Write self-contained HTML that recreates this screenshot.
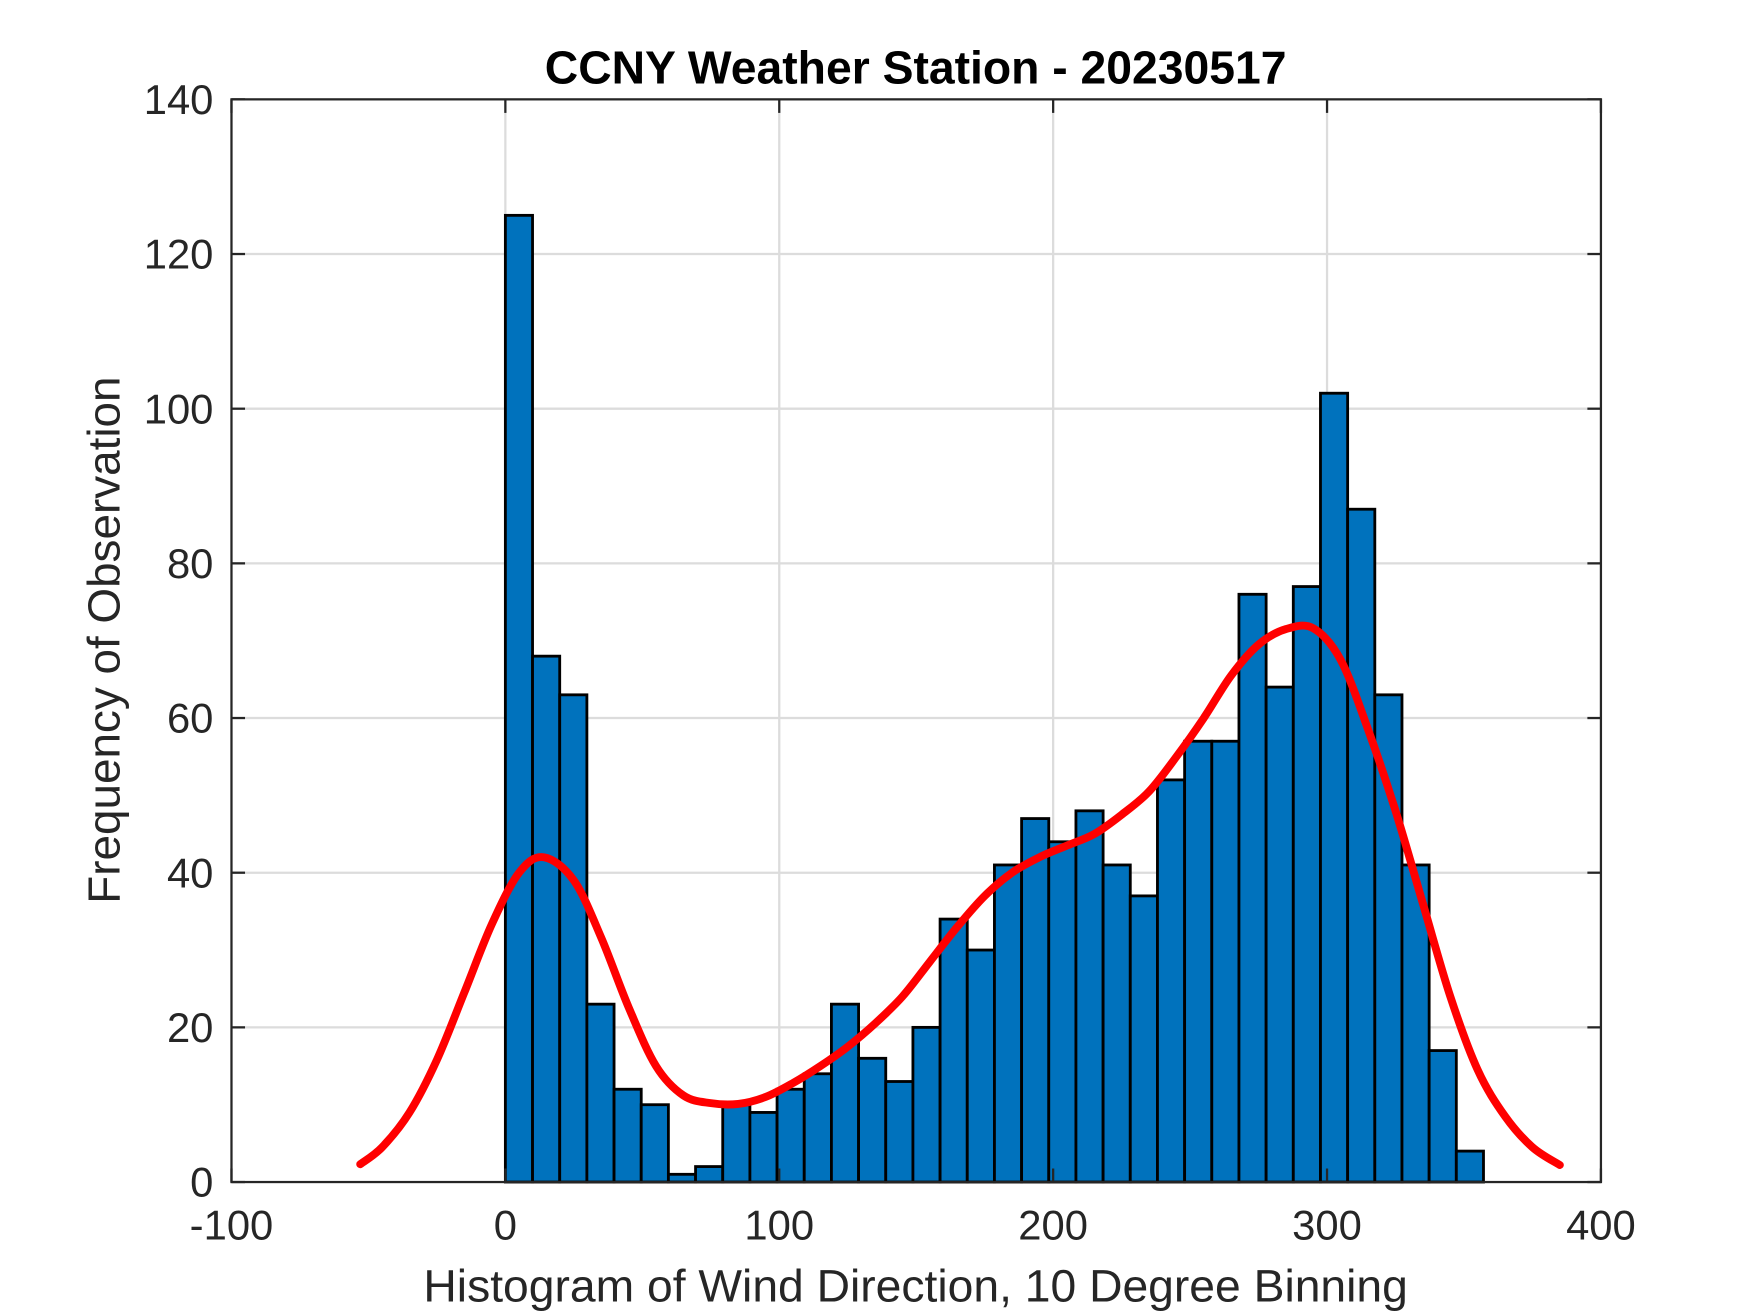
<!DOCTYPE html>
<html><head><meta charset="utf-8"><style>
html,body{margin:0;padding:0;background:#fff;}
svg{display:block;font-family:"Liberation Sans",Arial,sans-serif;}
</style></head><body>
<svg id="chart" width="1750" height="1313" viewBox="0 0 1550 1163" xmlns="http://www.w3.org/2000/svg">
<rect width="1550" height="1163" fill="#fff"/>
<g id="grid"></g>
<g id="bars"></g>
<g id="curve"></g>
<rect x="205" y="88" width="1213" height="959" fill="none" stroke="#262626" stroke-width="2"/>
<g id="ticks"></g>
<text x="811" y="74" text-anchor="middle" font-size="41" font-weight="bold" fill="#000" textLength="657" lengthAdjust="spacingAndGlyphs">CCNY Weather Station - 20230517</text>
<text x="811" y="1153" text-anchor="middle" font-size="40" fill="#262626" textLength="872" lengthAdjust="spacingAndGlyphs">Histogram of Wind Direction, 10 Degree Binning</text>
<text transform="translate(106,567) rotate(-90)" text-anchor="middle" font-size="40" fill="#262626" textLength="467" lengthAdjust="spacingAndGlyphs">Frequency of Observation</text>
</svg>
<script>
const counts = [125,68,63,23,12,10,1,2,10,9,12,14,23,16,13,20,34,30,41,47,44,48,41,37,52,57,57,76,64,77,102,87,63,41,17,4];
const binStart = 0;
const binWidth = 9.92;
const xTicks = [-100,0,100,200,300,400];
const yTicks = [0,20,40,60,80,100,120,140];
const curveX = [-53,-45,-35,-25,-15,-5,5,14,25,35,45,55,65,75,85,95,105,115,125,135,145,155,165,175,185,195,205,215,225,235,245,255,265,275,285,295,305,315,325,335,345,355,365,375,385];
const curveY = [2.3,4.5,9,15.8,24.5,33.3,40,42,39,31.6,22.6,15,11.2,10.2,10.1,11,12.8,15,17.5,20.5,24,28.5,33,37,40,42,43.5,45,47.5,50.5,55,60,65.5,69.5,71.5,71.6,67.5,58.5,48,36,24,14.5,8.5,4.5,2.2];
const L=205,R=1418,T=88,B=1047;
const xs=v=>L+(v+100)/500*(R-L);
const ys=v=>B-v/140*(B-T);
const NS="http://www.w3.org/2000/svg";
function mk(tag,attrs,parent){const e=document.createElementNS(NS,tag);for(const k in attrs)e.setAttribute(k,attrs[k]);parent.appendChild(e);return e;}
const grid=document.getElementById('grid'),ticks=document.getElementById('ticks');
xTicks.forEach(t=>{
  const x=xs(t);
  if(t>-100&&t<400){const g=mk('line',{x1:x,x2:x,y1:T,y2:B,stroke:'#dcdcdc','stroke-width':2},grid);
  
  }
  const a=mk('line',{x1:x,x2:x,y1:B,y2:B-12,stroke:'#262626','stroke-width':2},ticks);
  
  
  const b=mk('line',{x1:x,x2:x,y1:T,y2:T+12,stroke:'#262626','stroke-width':2},ticks);
  
  
  const tx=mk('text',{x:x,y:B+51,'text-anchor':'middle','font-size':37,fill:'#262626'},ticks);
  tx.textContent=t;
  
  
});
yTicks.forEach(t=>{
  const y=ys(t);
  if(t>0&&t<140){const g=mk('line',{x1:L,x2:R,y1:y,y2:y,stroke:'#dcdcdc','stroke-width':2},grid);
  
  }
  const a=mk('line',{x1:L,x2:L+12,y1:y,y2:y,stroke:'#262626','stroke-width':2},ticks);
  
  
  const b=mk('line',{x1:R,x2:R-12,y1:y,y2:y,stroke:'#262626','stroke-width':2},ticks);
  
  
  const tx=mk('text',{x:L-16,y:y+13,'text-anchor':'end','font-size':37,fill:'#262626'},ticks);
  tx.textContent=t;
  
  
});
const bars=document.getElementById('bars');
counts.forEach((c,i)=>{
  const x0=xs(binStart+i*binWidth),x1=xs(binStart+(i+1)*binWidth);
  const r=mk('rect',{x:x0,y:ys(c),width:x1-x0,height:B-ys(c),fill:'#0072bd',stroke:'#000','stroke-width':2.5},bars);
  
  
});
const pts=curveX.map((v,i)=>[xs(v),ys(curveY[i])]);
let d='M'+pts[0][0]+','+pts[0][1];
for(let i=0;i<pts.length-1;i++){
  const p0=pts[Math.max(0,i-1)],p1=pts[i],p2=pts[i+1],p3=pts[Math.min(pts.length-1,i+2)];
  const c1=[p1[0]+(p2[0]-p0[0])/6,p1[1]+(p2[1]-p0[1])/6];
  const c2=[p2[0]-(p3[0]-p1[0])/6,p2[1]-(p3[1]-p1[1])/6];
  d+=' C'+c1[0]+','+c1[1]+' '+c2[0]+','+c2[1]+' '+p2[0]+','+p2[1];
}
const path=mk('path',{d:d,fill:'none',stroke:'#ff0000','stroke-width':7,'stroke-linecap':'round','stroke-linejoin':'round'},document.getElementById('curve'));


</script>
</body></html>
